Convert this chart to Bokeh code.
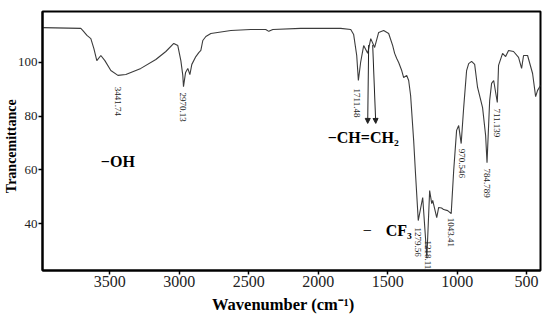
import math
from bokeh.plotting import figure
from bokeh.models import Range1d, Label, Arrow, NormalHead, FixedTicker, ColumnDataSource
from bokeh.core.properties import value
from bokeh.embed import file_html
from bokeh.resources import INLINE

# ---- data ----
wavenumber = [3985, 3709, 3694, 3665, 3637, 3615, 3594, 3565, 3536, 3493, 3442, 3385, 3277,
              3169, 3097, 3040, 3011, 2989, 2975, 2970, 2955, 2939, 2924, 2910, 2881, 2860,
              2845, 2831, 2809, 2773, 2629, 2486, 2378, 2356, 2327, 2126, 1838, 1766, 1745,
              1723, 1711, 1695, 1673, 1644, 1622, 1594, 1565, 1529, 1493, 1464, 1450, 1435,
              1421, 1399, 1385, 1363, 1349, 1335, 1313, 1299, 1280, 1248, 1218, 1198, 1183,
              1176, 1147, 1133, 1112, 1097, 1068, 1043, 1025, 1004, 989, 971, 953, 932, 917,
              896, 874, 853, 817, 795, 785, 766, 752, 737, 711, 702, 673, 651, 630, 594, 558,
              536, 522, 493, 457, 435, 421, 400]
transmittance = [113.0, 112.7, 111.9, 110.1, 108.9, 105.2, 100.7, 102.6, 100.7, 97.0, 95.2, 95.5, 97.8,
                 101.1, 104.1, 107.1, 106.3, 100.7, 95.2, 91.0, 96.3, 97.8, 95.5, 99.3, 102.2, 103.7,
                 104.5, 108.2, 109.7, 110.8, 111.9, 112.3, 112.3, 111.6, 112.3, 112.7, 112.7, 112.3, 110.4,
                 102.6, 93.3, 100.0, 106.3, 103.4, 108.9, 105.6, 111.2, 111.9, 110.8, 106.3, 103.4, 101.5,
                 100.0, 97.0, 94.4, 95.2, 93.3, 87.7, 70.9, 57.9, 41.1, 49.7, 27.3, 52.3, 47.4,
                 48.6, 42.2, 46.0, 45.8, 45.2, 44.8, 43.7, 59.7, 74.7, 76.5, 69.8, 83.2, 97.0, 99.6,
                 100.4, 99.3, 90.7, 83.2, 72.8, 62.7, 85.8, 92.2, 93.3, 85.1, 98.9, 103.4, 102.2, 104.5, 104.1, 101.9,
                 97.8, 102.6, 102.6, 95.9, 87.3, 89.6, 91.4]

peak_positions = [3441.74, 2970.13, 1711.48, 1279.56, 1218.11, 1043.41, 970.546, 784.789, 711.139]
peak_labels = ["3441.74", "2970.13", "1711.48", "1279.56", "1218.11", "1043.41", "970.546", "784.789", "711.139"]
# layout: anchor positions (top of each rotated label)
peak_label_x = [3441.74, 2970.13, 1718, 1279.56, 1212, 1047, 968, 788, 716]
peak_label_y = [91.0, 88.8, 90.3, 38.5, 33.7, 42.2, 67.9, 60.5, 82.9]

x_ticks = [3500, 3000, 2500, 2000, 1500, 1000, 500]
y_ticks = [40, 60, 80, 100]

SERIF = "Liberation Serif"
NBSP = "\u00a0"

p = figure(width=550, height=321, output_backend="svg", toolbar_location=None,
           x_range=Range1d(3985, 400), y_range=Range1d(22.5, 119),
           min_border_left=42, min_border_right=10, min_border_top=11, min_border_bottom=51)
p.background_fill_color = "white"
p.border_fill_color = "white"
p.grid.visible = False
p.outline_line_color = "black"
p.outline_line_width = 2
p.outline_line_alpha = 1

p.xaxis.ticker = FixedTicker(ticks=x_ticks)
p.yaxis.ticker = FixedTicker(ticks=y_ticks)
for ax in (p.xaxis[0], p.yaxis[0]):
    ax.axis_line_width = 2
    ax.axis_line_color = "black"
    ax.major_tick_in = 0
    ax.major_tick_out = 4
    ax.major_tick_line_width = 1.5
    ax.major_tick_line_color = "black"
    ax.minor_tick_line_color = None
    ax.major_label_text_font = SERIF
    ax.major_label_text_color = "#222222"
    ax.axis_label_text_font = SERIF
    ax.axis_label_text_font_style = "bold"
    ax.axis_label_text_color = "black"
p.xaxis.major_label_text_font_size = "16px"
p.xaxis.major_label_standoff = 1
p.xaxis.axis_label = "Wavenumber (cm\u207b\u00b9)" + NBSP * 4
p.xaxis.axis_label_text_font_size = "16.5px"
p.xaxis.axis_label_standoff = 5
p.yaxis.major_label_text_font_size = "13px"
p.yaxis.major_label_standoff = 1
p.yaxis.axis_label = "Trancemittance" + NBSP * 3
p.yaxis.axis_label_text_font_size = "14px"
p.yaxis.axis_label_standoff = -4

src = ColumnDataSource(dict(x=wavenumber, y=transmittance))
p.line("x", "y", source=src, line_color="#3c3c3c", line_width=1.1)

lab_src = ColumnDataSource(dict(x=peak_label_x, y=peak_label_y, t=peak_labels))
p.text("x", "y", text="t", source=lab_src, angle=-math.pi / 2,
       text_font=value(SERIF), text_font_size="9px", text_color="#222222",
       text_align="left", text_baseline="middle")

# functional group annotations
p.add_layout(Label(x=3565, y=63.1, text="\u2212OH", text_font=SERIF, text_font_size="16px",
                   text_font_style="bold", text_color="black", text_baseline="middle"))
p.add_layout(Label(x=1932, y=72.0, text="\u2212CH=CH\u2082", text_font=SERIF, text_font_size="16px",
                   text_font_style="bold", text_color="black", text_baseline="middle"))
p.add_layout(Label(x=1680, y=37.4, text="\u2212", text_font=SERIF, text_font_size="16px",
                   text_color="black", text_baseline="middle"))
p.add_layout(Label(x=1514, y=37.4, text="CF\u2083", text_font=SERIF, text_font_size="16px",
                   text_font_style="bold", text_color="black", text_baseline="middle"))

for xs, xe in ((1637, 1644), (1608, 1586)):
    p.add_layout(Arrow(x_start=xs, y_start=106.5, x_end=xe, y_end=77.3,
                       line_color="#222222", line_width=1,
                       end=NormalHead(size=5, fill_color="#222222", line_color="#222222")))

open("out.html", "w").write(file_html(p, INLINE))
